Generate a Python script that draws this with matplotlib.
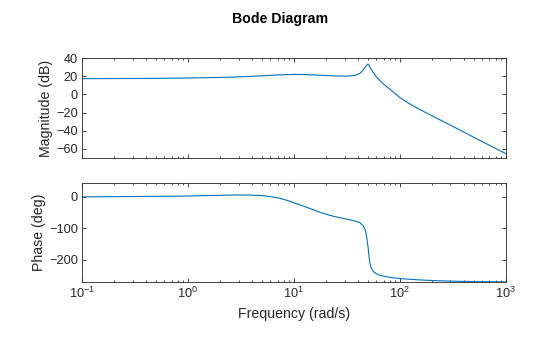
import matplotlib
matplotlib.use("Agg")
import matplotlib.pyplot as plt
import matplotlib.ticker as ticker

plt.rcParams["font.family"] = ["Liberation Sans", "DejaVu Sans"]

# magnitude curve
MAG_FREQ = [0.1, 0.2, 0.5, 1, 2, 3, 5, 7, 10, 13, 18, 25, 32, 38, 42, 45, 47, 49, 50,
            51, 53, 56, 60, 65, 70, 80, 90, 100, 120, 150, 200, 300, 500, 700, 1000]
MAG_DB = [17.5, 17.6, 17.8, 18.2, 18.8, 19.4, 20.6, 21.6, 22.2, 22.0, 21.2, 20.5, 20.2, 21.2,
          23.4, 27.0, 30.0, 33.0, 33.7, 32.5, 28.5, 24.5, 19.5, 15.0, 11.5, 6.0, 1.0,
          -3.5, -9.5, -16.0, -23.5, -34.0, -47.5, -56.3, -65.5]

# phase curve
PH_FREQ = [0.1, 0.3, 1, 2, 3, 4, 5, 6, 7, 8, 9, 10, 12, 15, 18, 22, 27, 33, 38, 42, 45, 47,
           48.5, 50, 51.5, 53, 56, 60, 65, 80, 100, 150, 200, 300, 500, 1000]
PH_DEG = [0, 1, 2.5, 5, 6, 5.5, 4, 1, -3, -8, -13, -19, -28, -40, -50, -59, -66, -72, -77,
          -82, -92, -105, -125, -158, -200, -222, -236, -244, -249, -255, -259, -263, -265,
          -267, -268.5, -269.5]

MAG_TICKS = [-60, -40, -20, 0, 20, 40]
PH_TICKS = [-200, -100, 0]

LINE = "#0072BD"
AX = "#262626"

fig = plt.figure(figsize=(5.6, 3.37), dpi=100)
ax1 = fig.add_axes([0.1464, 0.532, 0.757, 0.295])
ax2 = fig.add_axes([0.1464, 0.163, 0.757, 0.295])

ax1.semilogx(MAG_FREQ, MAG_DB, color=LINE, lw=0.8)
ax2.semilogx(PH_FREQ, PH_DEG, color=LINE, lw=0.8)

ax1.set_ylim(-70, 40)
ax2.set_ylim(-270, 45)
ax1.set_yticks(MAG_TICKS)
ax2.set_yticks(PH_TICKS)

for ax in (ax1, ax2):
    ax.set_xlim(0.1, 1000)
    ax.xaxis.set_major_locator(ticker.LogLocator(base=10, numticks=10))
    ax.xaxis.set_minor_locator(ticker.LogLocator(base=10, subs=range(2, 10), numticks=10))
    ax.tick_params(which="both", direction="in", top=True, right=True,
                   colors=AX, labelsize=9.2, width=0.6, pad=3)
    ax.tick_params(which="major", length=3)
    ax.tick_params(which="minor", length=1.5)
    for sp in ax.spines.values():
        sp.set_color(AX)
        sp.set_linewidth(0.6)

ax1.tick_params(labelbottom=False)
ax1.set_ylabel("Magnitude (dB)", fontsize=10.2, color=AX, labelpad=2)
ax2.set_ylabel("Phase (deg)", fontsize=10.2, color=AX, labelpad=2)
ax2.set_xlabel("Frequency (rad/s)", fontsize=10.2, color=AX, labelpad=4)
fig.text(0.5, 0.945, "Bode Diagram", ha="center", va="center",
         fontsize=10.2, fontweight="bold", color="#000000")

plt.savefig("out.png", dpi=100)
